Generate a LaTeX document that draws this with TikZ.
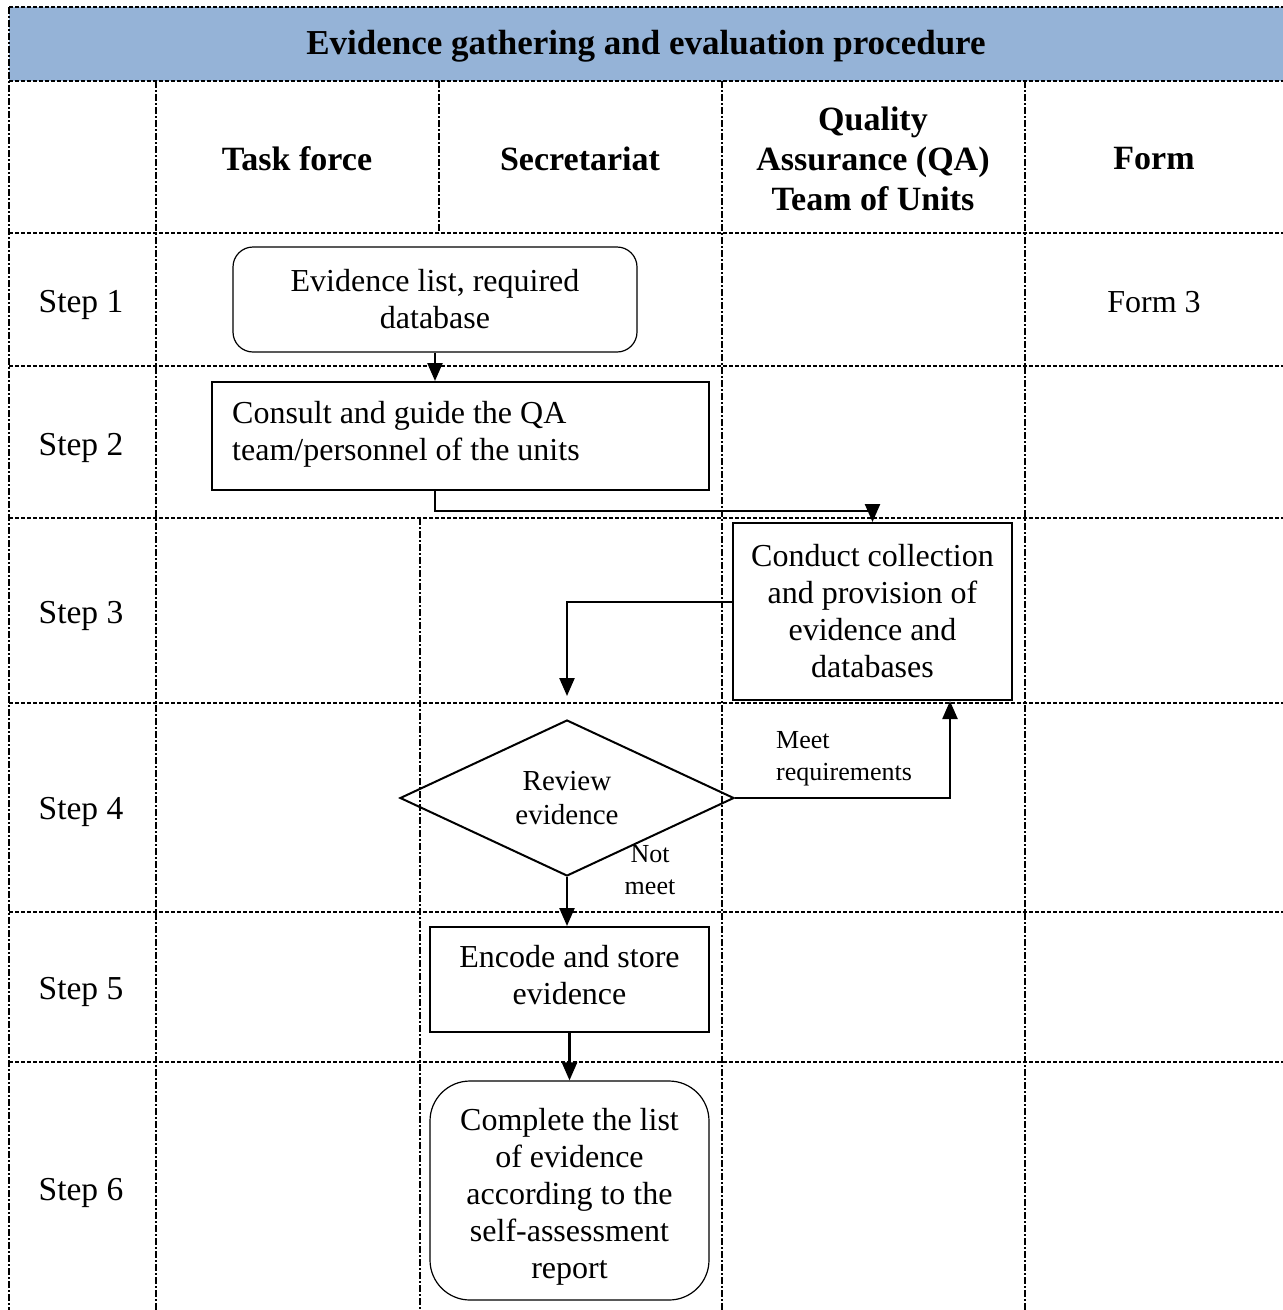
\documentclass[tikz,border=0pt]{standalone}
\usepackage{fontspec}
\setmainfont{Liberation Serif}
\usetikzlibrary{arrows.meta,shapes.geometric,calc}
\definecolor{titleblue}{HTML}{95B3D7}
\begin{document}
\begin{tikzpicture}[x=1pt,y=-1pt,
  hline/.style={line width=1.6pt, dash pattern=on 4pt off 2pt},
  vline/.style={line width=1.6pt, dash pattern=on 7pt off 2pt on 2pt off 2pt},
  body/.style={font=\fontsize{32}{37}\selectfont},
  steplbl/.style={font=\fontsize{33.5}{37}\selectfont},
  head/.style={font=\fontsize{34}{40}\selectfont\bfseries, align=center},
  procbox/.style={draw, line width=2pt, inner sep=0pt, align=center, body},
  roundbox/.style={draw, line width=1.2pt, rounded corners=20pt, inner sep=0pt, align=center, body},
  arr/.style={line width=2.4pt, -{Triangle[length=18pt,width=15pt]}},
  smalllbl/.style={font=\fontsize{26}{32}\selectfont, inner sep=0pt}
]
\useasboundingbox (0,0) rectangle (1283,1310);
% title band
\fill[titleblue] (9,7) rectangle (1283,81);
\node[font=\fontsize{35}{40}\selectfont\bfseries] (title) at (646,46) {Evidence gathering and evaluation procedure};
% horizontal grid lines
\foreach \yy in {7,81,233,366,518,703,912,1062}
  \draw[hline] (9,\yy) -- (1283,\yy);
% vertical grid lines
\draw[vline] (9,7) -- (9,1310);
\draw[vline] (156,81) -- (156,1310);
\draw[vline] (439,81) -- (439,233);
\draw[vline] (420,518) -- (420,1310);
\draw[vline] (722,81) -- (722,1310);
\draw[vline] (1025,81) -- (1025,1310);
% headers
\node[head] (h1) at (297,159) {Task force};
\node[head] (h2) at (580,159) {Secretariat};
\node[head] (h3) at (873,159) {Quality\\Assurance (QA)\\Team of Units};
\node[head] (h4) at (1154,159) {Form};
% step labels
\node[steplbl] (s1) at (81,305) {Step 1};
\node[steplbl] (s2) at (81,448) {Step 2};
\node[steplbl] (s3) at (81,616) {Step 3};
\node[steplbl] (s4) at (81,812) {Step 4};
\node[steplbl] (s5) at (81,992) {Step 5};
\node[steplbl] (s6) at (81,1193) {Step 6};
\node[body] (f3) at (1154,302) {Form 3};
% flow boxes
\node[roundbox, minimum width=404pt, minimum height=105pt] (evlist) at (435,299.5) {Evidence list, required\\database};
\node[draw, line width=2pt, inner sep=0pt, minimum width=497pt, minimum height=108pt] (consult) at (460.5,436) {};
\node[body, anchor=north west, align=left, inner sep=0pt] (consulttext) at (232,401) {Consult and guide the QA\\team/personnel of the units};
\node[procbox, minimum width=279pt, minimum height=177pt] (conduct) at (872.5,611.5) {Conduct collection\\and provision of\\evidence and\\databases};
\node[diamond, draw, line width=2pt, minimum width=334pt, minimum height=156pt, shape aspect=2.14, inner sep=0pt, align=center, font=\fontsize{29}{34}\selectfont] (review) at (567,798) {Review\\evidence};
\node[draw, line width=2pt, inner sep=0pt, minimum width=279pt, minimum height=105pt] (encode) at (569.5,979.5) {};
\node[body, align=center, inner sep=0pt] (encodetext) at (569.5,975.5) {Encode and store\\evidence};
\node[draw, line width=1.2pt, rounded corners=40pt, inner sep=0pt, minimum width=279pt, minimum height=219pt] (complete) at (569.5,1190.5) {};
\node[body, align=center, inner sep=0pt] (completetext) at (569.5,1196.5) {Complete the list\\of evidence\\according to the\\self-assessment\\report};
% labels
\node[smalllbl, align=left, anchor=west] (meet) at (776,759) {Meet\\requirements};
\node[smalllbl, align=center] (notmeet) at (650,870) {Not\\meet};
% connectors
\draw[arr] (evlist.south) -- (evlist.south |- consult.north);
\draw[arr] (evlist.south |- consult.south) -- ++(0,20) -| (conduct.north);
\draw[arr, shorten >=23pt] ([yshift=9.5pt]conduct.west) -| (review.north);
\draw[arr] (review.east) -| ([xshift=77.5pt]conduct.south);
\draw[arr] (review.south) -- (review.south |- encode.north);
\draw[arr] (encode.south) -- (complete.north);
\end{tikzpicture}
\end{document}
